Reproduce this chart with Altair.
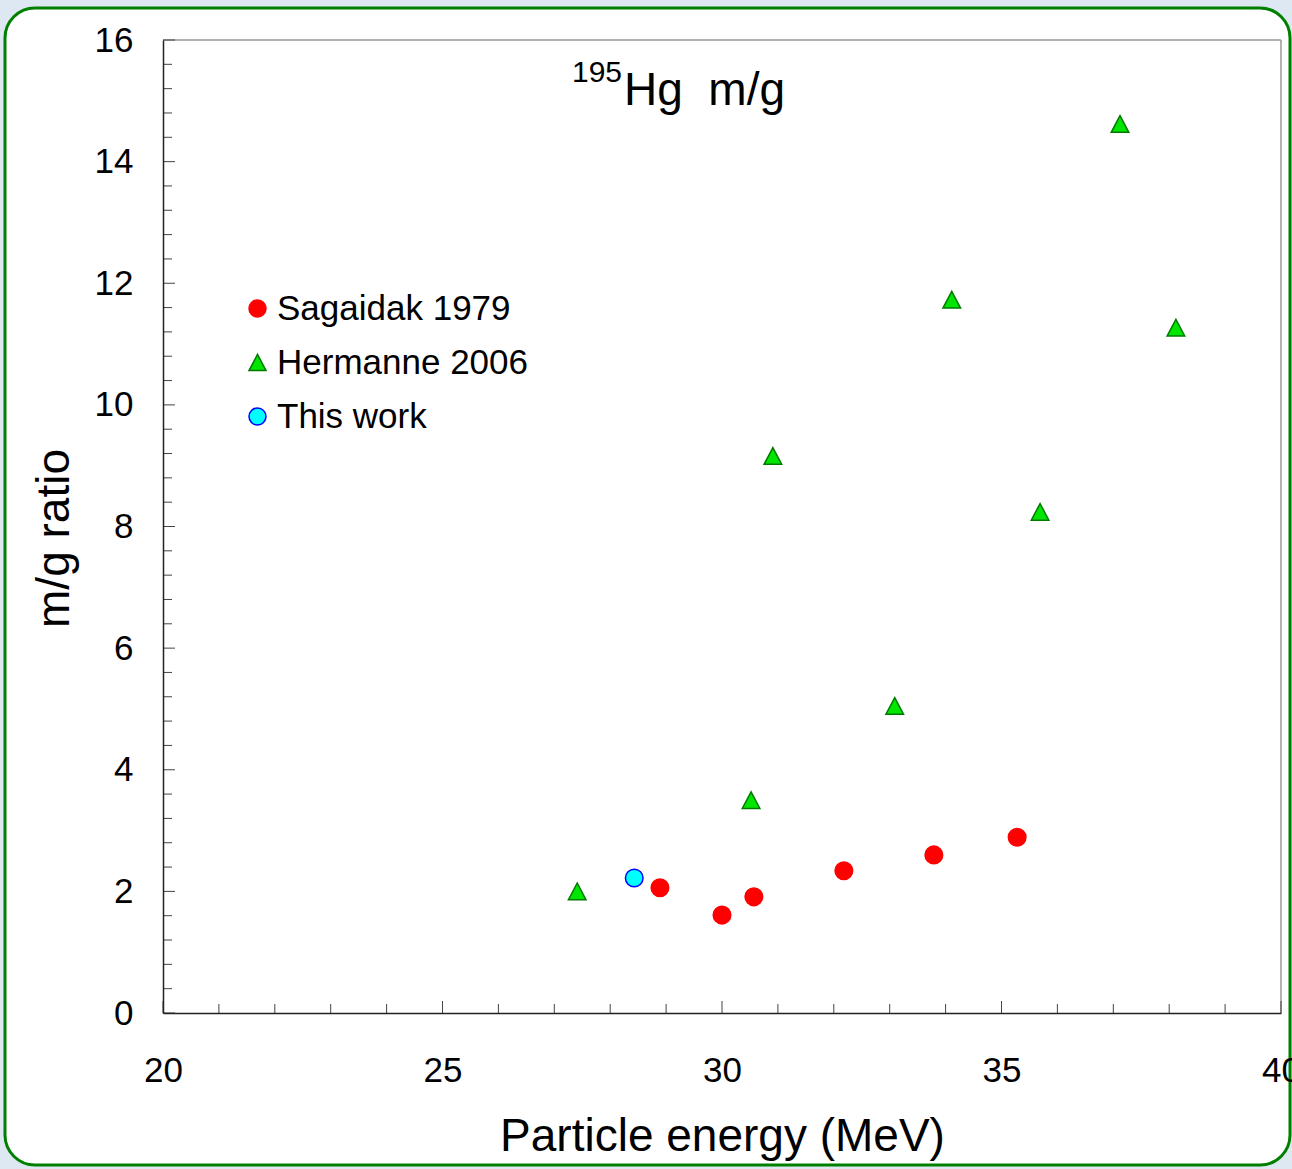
import altair as alt
import pandas as pd

# ---- data ----
sag_x = [28.89, 30.0, 30.57, 32.18, 33.79, 35.28]
sag_y = [2.06, 1.61, 1.91, 2.34, 2.60, 2.89]

her_x = [27.41, 30.52, 30.91, 33.09, 34.11, 35.69, 37.12, 38.12]
her_y = [2.00, 3.50, 9.16, 5.05, 11.73, 8.24, 14.62, 11.27]

this_x = [28.43]
this_y = [2.22]

series_names = ["Sagaidak 1979", "Hermanne 2006", "This work"]
series_fill = ["#ff0000", "#00e600", "#00ffff"]
series_stroke = ["#ff0000", "#007a00", "#0000ff"]
series_shape = ["circle", "M0,-0.95L1,0.95L-1,0.95Z", "circle"]

x_major = [20, 25, 30, 35, 40]
x_minor = [21, 22, 23, 24, 26, 27, 28, 29, 31, 32, 33, 34, 36, 37, 38, 39]
y_major = [0, 2, 4, 6, 8, 10, 12, 14, 16]
y_minor = [0.4, 0.8, 1.2, 1.6, 2.4, 2.8, 3.2, 3.6, 4.4, 4.8, 5.2, 5.6,
           6.4, 6.8, 7.2, 7.6, 8.4, 8.8, 9.2, 9.6, 10.4, 10.8, 11.2, 11.6,
           12.4, 12.8, 13.2, 13.6, 14.4, 14.8, 15.2, 15.6]

FONT = "Liberation Sans"
W, H = 1118, 973

rows = []
for x, y in zip(sag_x, sag_y):
    rows.append({"E": x, "R": y, "series": series_names[0]})
for x, y in zip(her_x, her_y):
    rows.append({"E": x, "R": y, "series": series_names[1]})
for x, y in zip(this_x, this_y):
    rows.append({"E": x, "R": y, "series": series_names[2]})
df = pd.DataFrame(rows)

xscale = alt.Scale(domain=[20, 40], nice=False, zero=False)
yscale = alt.Scale(domain=[0, 16], nice=False, zero=False)

legend = alt.Legend(
    title=None, orient="none", legendX=77, legendY=251,
    labelFont=FONT, labelFontSize=35, labelColor="black", labelOffset=2,
    labelLimit=0,
    symbolSize=289, symbolStrokeWidth=1.5, rowPadding=18, padding=0,
    symbolOpacity=1, zindex=1,
)

# frame (rounded green border on white card)
frame = alt.Chart(pd.DataFrame({"a": [0]})).mark_rect(
    fill="white", stroke="#008000", strokeWidth=3, cornerRadius=30
).encode(
    x=alt.value(-158), x2=alt.value(1127), y=alt.value(-32), y2=alt.value(1125)
)

# top and right gray borders of the plot box
top_border = alt.Chart(pd.DataFrame({"a": [0]})).mark_rule(
    color="#999999", strokeWidth=1.5
).encode(x=alt.value(0), x2=alt.value(W), y=alt.value(0))
right_border = alt.Chart(pd.DataFrame({"a": [0]})).mark_rule(
    color="#999999", strokeWidth=1.5
).encode(x=alt.value(W), y=alt.value(0), y2=alt.value(H))

# inward ticks
xmaj = alt.Chart(pd.DataFrame({"v": x_major})).mark_rule(color="#444", strokeWidth=1).encode(
    x=alt.X("v:Q", scale=xscale), y=alt.value(H), y2=alt.value(H - 12))
xmin = alt.Chart(pd.DataFrame({"v": x_minor})).mark_rule(color="#444", strokeWidth=1).encode(
    x=alt.X("v:Q", scale=xscale), y=alt.value(H), y2=alt.value(H - 9))
ymaj = alt.Chart(pd.DataFrame({"v": y_major})).mark_rule(color="#444", strokeWidth=1).encode(
    y=alt.Y("v:Q", scale=yscale), x=alt.value(0), x2=alt.value(12))
ymin = alt.Chart(pd.DataFrame({"v": y_minor})).mark_rule(color="#444", strokeWidth=1).encode(
    y=alt.Y("v:Q", scale=yscale), x=alt.value(0), x2=alt.value(9))

points = alt.Chart(df).mark_point(filled=True, size=310, opacity=1, strokeWidth=1.5).encode(
    x=alt.X("E:Q", scale=xscale, title="Particle energy (MeV)",
            axis=alt.Axis(values=x_major, format="d", ticks=False, grid=False,
                          labelFont=FONT, labelFontSize=35, labelColor="black",
                          labelPadding=40, labelBaseline="top",
                          labelFlush=False, labelBound=False, labelOverlap=False,
                          domainColor="#222", domainWidth=1.5, zindex=1,
                          titleFont=FONT, titleFontSize=46, titleFontWeight="normal",
                          titleColor="black", titleX=W / 2, titleY=137,
                          titleBaseline="alphabetic", titleAlign="center")),
    y=alt.Y("R:Q", scale=yscale, title="m/g ratio",
            axis=alt.Axis(values=y_major, format="d", ticks=False, grid=False,
                          labelFont=FONT, labelFontSize=35, labelColor="black",
                          labelPadding=30, labelFlush=False, labelBound=False,
                          labelOverlap=False,
                          domainColor="#222", domainWidth=1.5, zindex=1,
                          titleFont=FONT, titleFontSize=46, titleFontWeight="normal",
                          titleColor="black", titleAngle=270, titleX=-95, titleY=498,
                          titleBaseline="alphabetic", titleAlign="center")),
    color=alt.Color("series:N", scale=alt.Scale(domain=series_names, range=series_fill),
                    legend=legend),
    stroke=alt.Stroke("series:N", scale=alt.Scale(domain=series_names, range=series_stroke),
                      legend=legend),
    shape=alt.Shape("series:N", scale=alt.Scale(domain=series_names, range=series_shape),
                    legend=legend),
)

sup = alt.Chart(pd.DataFrame({"t": ["195"]})).mark_text(
    font=FONT, fontSize=30, align="left", baseline="alphabetic", color="black"
).encode(text="t:N", x=alt.value(409), y=alt.value(42))
main_title = alt.Chart(pd.DataFrame({"t": ["Hg\u00a0 m/g"]})).mark_text(
    font=FONT, fontSize=46, align="left", baseline="alphabetic", color="black"
).encode(text="t:N", x=alt.value(461), y=alt.value(65))

chart = alt.layer(
    frame, top_border, right_border, xmaj, xmin, ymaj, ymin, points, sup, main_title
).properties(
    width=W, height=H,
    autosize=alt.AutoSizeParams(type="none"),
    padding={"left": 163, "top": 40, "right": 11, "bottom": 156},
    background="#dde8f2",
).configure_view(stroke=None).resolve_scale(x="shared", y="shared")

chart.save("out.html", embed_options={"renderer": "svg", "actions": False})
